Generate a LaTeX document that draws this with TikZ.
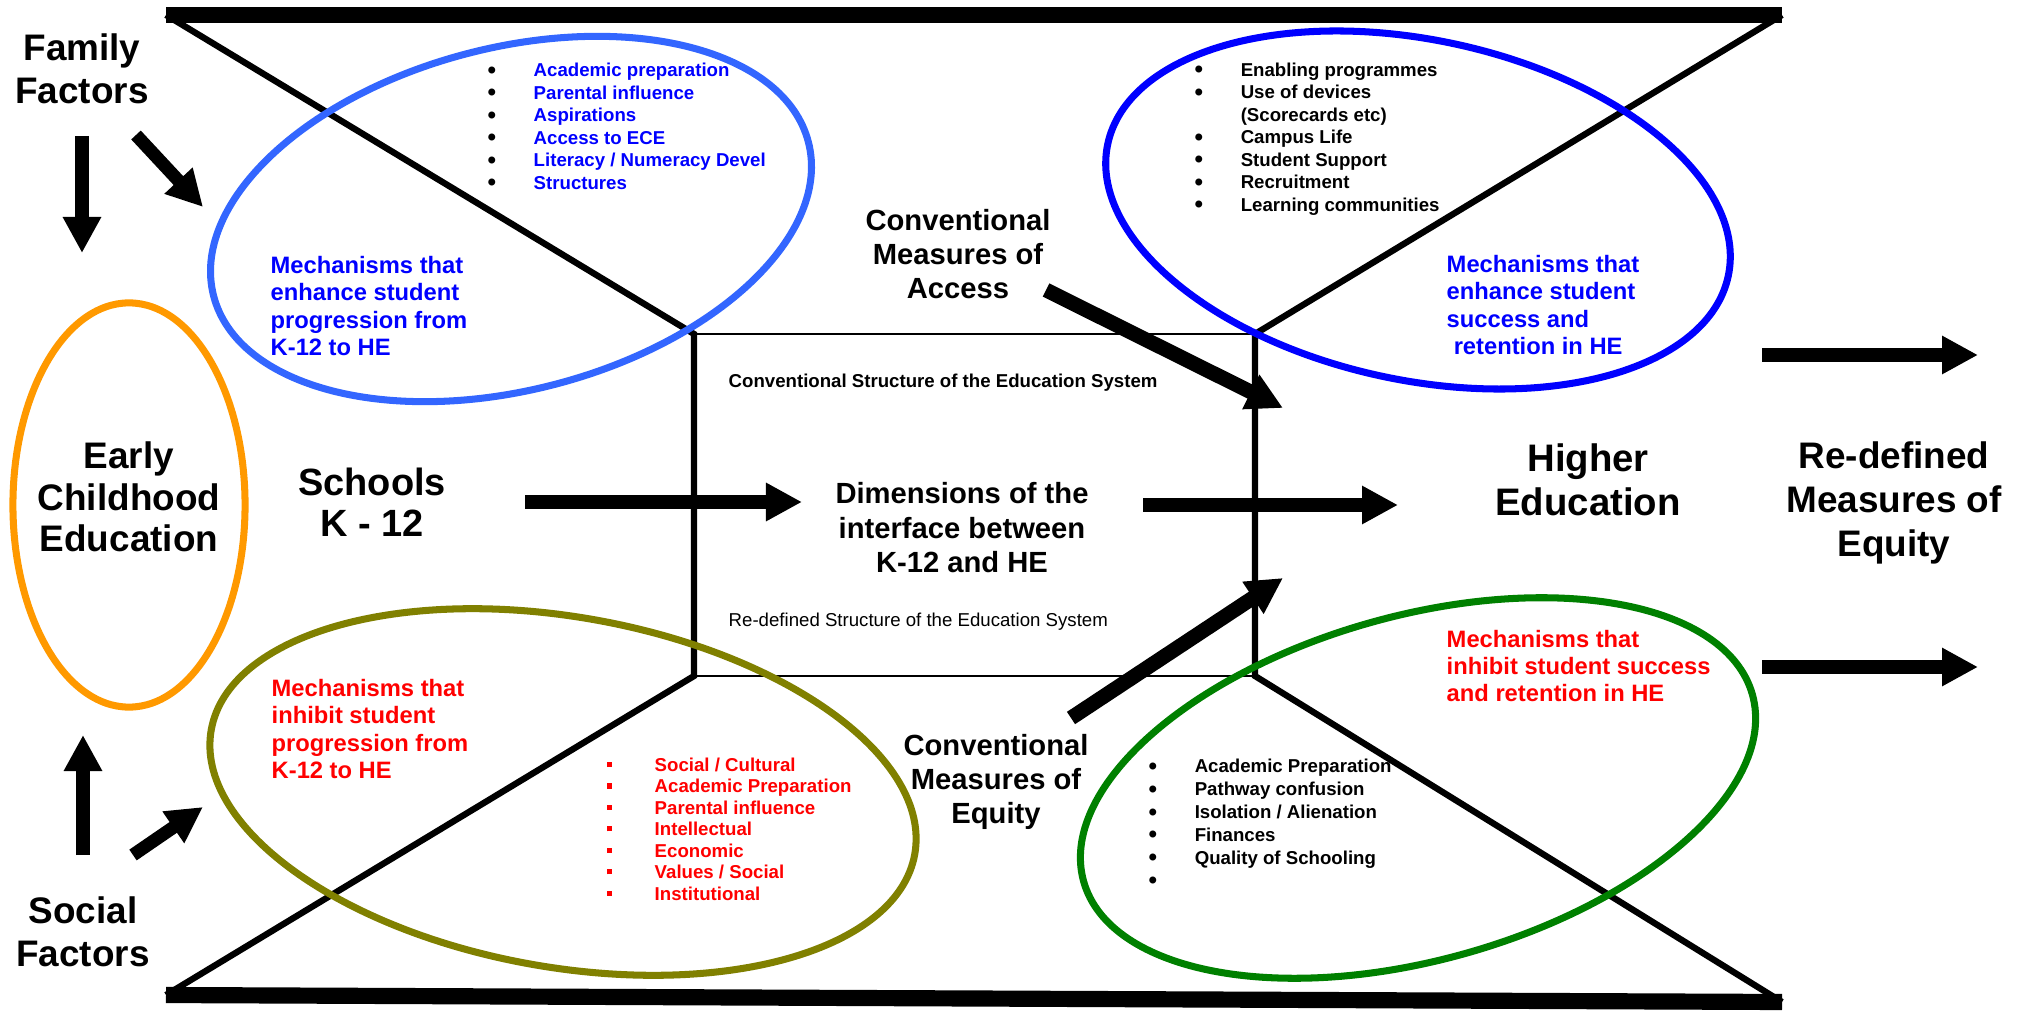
\documentclass[tikz,border=0pt]{standalone}
\usepackage{fontspec}
\setmainfont{Liberation Sans}
\usetikzlibrary{arrows.meta}
\usetikzlibrary{shapes.geometric}
\usetikzlibrary{positioning}

\definecolor{enhblue}{RGB}{51,102,255}
\definecolor{heblue}{RGB}{0,0,255}
\definecolor{inhibolive}{RGB}{128,128,0}
\definecolor{inhibgreen}{RGB}{0,128,0}
\definecolor{eceorange}{RGB}{255,153,0}

\newcommand{\dotitem}{\makebox[0.46cm][l]{\raisebox{-0.4pt}{\fontsize{6.9}{6.4}\selectfont\textcolor{black}{\textbullet}}}}
\newcommand{\sqitem}{\makebox[0.48cm][l]{\rule[1.2pt]{1.45pt}{1.45pt}}}

\begin{document}
\begin{tikzpicture}[x=0.01cm, y=-0.01cm,
    bigtext/.style={font=\fontsize{10.5}{12.2}\selectfont\bfseries, align=center, inner sep=0pt},
    midtext/.style={font=\fontsize{8.3}{9.6}\selectfont\bfseries, align=center, inner sep=0pt},
    mechtext/.style={font=\fontsize{6.75}{7.8}\selectfont\bfseries, align=left, anchor=west, inner sep=0pt},
    listtext/.style={font=\fontsize{5.3}{6.4}\selectfont\bfseries, align=left, anchor=west, inner sep=0pt},
    ring/.style={draw, ellipse, line width=2pt, inner sep=0pt},
    blockarrow/.style={line width=3.7pt, -{Triangle[length=3.6mm, width=3.6mm]}},
    hourglass/.style={line width=1.8pt}]

    \useasboundingbox (0,0) rectangle (2028,1013);

    % Corners of the frame
    \coordinate (topL) at (166,15);
    \coordinate (topR) at (1782,15);
    \coordinate (botL) at (166,995);
    \coordinate (botR) at (1782,1002);
    \coordinate (boxNW) at (694,334);
    \coordinate (boxNE) at (1255,334);
    \coordinate (boxSW) at (694,676);
    \coordinate (boxSE) at (1255,676);

    % Top and bottom bars
    \draw[line width=4.6pt] (topL) -- (topR);
    \draw[line width=4.6pt] (botL) -- (botR);

    % Diagonals and the interface box
    \draw[hourglass] (topL) -- (boxNW) -- (boxSW) -- (botL);
    \draw[hourglass] (topR) -- (boxNE) -- (boxSE) -- (botR);
    \draw[line width=0.6pt] (boxNW) -- (boxNE) (boxSW) -- (boxSE);

    % Ellipses
    \node[ring, draw=eceorange, minimum width=2.32cm, minimum height=4.04cm] (ecering) at (129,505) {};
    \node[ring, draw=enhblue, minimum width=6.14cm, minimum height=3.42cm, rotate=14.5] (enhk12ring) at (511,219) {};
    \node[ring, draw=heblue, minimum width=6.34cm, minimum height=3.40cm, rotate=-12] (enhhering) at (1418,210) {};
    \node[ring, draw=inhibolive, minimum width=7.14cm, minimum height=3.50cm, rotate=-10] (inhk12ring) at (563,792) {};
    \node[ring, draw=inhibgreen, minimum width=6.94cm, minimum height=3.44cm, rotate=15.6] (inhhering) at (1418,788) {};

    % Main labels
    \node[bigtext] (famfac) at (82,69) {Family\\Factors};
    \node[bigtext] (socfac) at (83,932) {Social\\Factors};
    \node[bigtext, font=\fontsize{10.5}{11.8}\selectfont\bfseries] (ece) at (129,497) {Early\\Childhood\\Education};
    \node[bigtext, font=\fontsize{10.8}{11.8}\selectfont\bfseries] (schools) at (372,502) {Schools\\K - 12};
    \node[bigtext, font=\fontsize{10.9}{12.5}\selectfont\bfseries] (higher) at (1588,480) {Higher\\Education};
    \node[bigtext, font=\fontsize{10.5}{12.4}\selectfont\bfseries] (redefeq) at (1894,503) {Re-defined\\Measures of\\Equity};
    \node[midtext, font=\fontsize{8.3}{9.8}\selectfont\bfseries] (dims) at (962,528) {Dimensions of the\\interface between\\K-12 and HE};
    \node[midtext] (access) at (958,254) {Conventional\\Measures of\\Access};
    \node[midtext] (equity) at (996,782) {Conventional\\Measures of\\Equity};
    \node[listtext] (convstruct) at (728,383) {Conventional Structure of the Education System};
    \node[listtext, font=\fontsize{5.3}{6.4}\selectfont] (redefstruct) at (728,622) {Re-defined Structure of the Education System};

    % Mechanisms
    \node[mechtext, heblue] (enhk12) at (270,306) {Mechanisms that\\enhance student\\progression from\\K-12 to HE};
    \node[mechtext, heblue] (enhhe) at (1446,305) {Mechanisms that\\enhance student\\success and\\\hspace*{2pt}retention in HE};
    \node[mechtext, red] (inhk12) at (271,729) {Mechanisms that\\inhibit student\\progression from\\K-12 to HE};
    \node[mechtext, red] (inhhe) at (1446,666) {Mechanisms that\\inhibit student success\\and retention in HE};

    % Lists
    \node[listtext, heblue] (enhk12list) at (487,127) {\dotitem Academic preparation\\\dotitem Parental influence\\\dotitem Aspirations\\\dotitem Access to ECE\\\dotitem Literacy / Numeracy Devel\\\dotitem Structures};
    \node[listtext] (enhhelist) at (1194,139) {\dotitem Enabling programmes\\\dotitem Use of devices\\\makebox[0.46cm]{}(Scorecards etc)\\\dotitem Campus Life\\\dotitem Student Support\\\dotitem Recruitment\\\dotitem Learning communities};
    \node[listtext, red, font=\fontsize{5.3}{6.1}\selectfont\bfseries] (inhk12list) at (606,829) {\sqitem Social / Cultural\\\sqitem Academic Preparation\\\sqitem Parental influence\\\sqitem Intellectual\\\sqitem Economic\\\sqitem Values / Social\\\sqitem Institutional};
    \node[listtext, font=\fontsize{5.3}{6.5}\selectfont\bfseries] (inhhelist) at (1148,824) {\dotitem Academic Preparation\\\dotitem Pathway confusion\\\dotitem Isolation / Alienation\\\dotitem Finances\\\dotitem Quality of Schooling\\\dotitem};

    % Arrow ends
    \coordinate (famdownA) at (82,136);
    \coordinate (famdownB) at (82,253);
    \coordinate (famdiagA) at (136,135);
    \coordinate (famdiagB) at (203,207);
    \coordinate (socupA) at (83,855);
    \coordinate (socupB) at (83,735);
    \coordinate (socdiagA) at (133,855);
    \coordinate (socdiagB) at (203,807);
    \coordinate (k12A) at (525,502);
    \coordinate (k12B) at (802,502);
    \coordinate (heA) at (1143,505);
    \coordinate (heB) at (1398,505);
    \coordinate (outtopA) at (1762,355);
    \coordinate (outtopB) at (1978,355);
    \coordinate (outbotA) at (1762,667);
    \coordinate (outbotB) at (1978,667);
    \coordinate (accessA) at (1046,290);
    \coordinate (accessB) at (1283,408);
    \coordinate (equityA) at (1071,718);
    \coordinate (equityB) at (1283,578);

    % Arrows
    \draw[blockarrow] (famdownA) -- (famdownB);
    \draw[blockarrow] (famdiagA) -- (famdiagB);
    \draw[blockarrow] (socupA) -- (socupB);
    \draw[blockarrow] (socdiagA) -- (socdiagB);
    \draw[blockarrow] (k12A) -- (k12B);
    \draw[blockarrow] (heA) -- (heB);
    \draw[blockarrow] (outtopA) -- (outtopB);
    \draw[blockarrow] (outbotA) -- (outbotB);
    \draw[blockarrow, line width=4.2pt] (accessA) -- (accessB);
    \draw[blockarrow, line width=4.2pt] (equityA) -- (equityB);

\end{tikzpicture}
\end{document}
